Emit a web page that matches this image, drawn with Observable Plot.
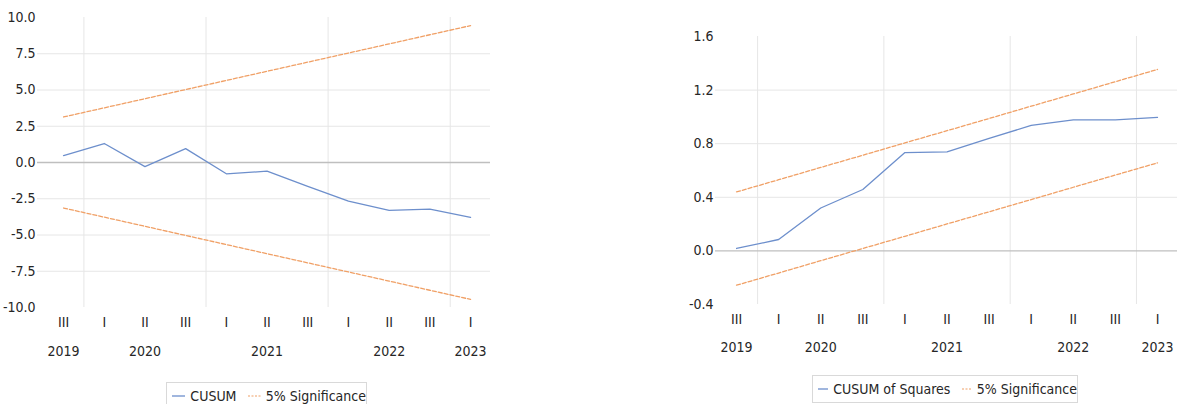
<!DOCTYPE html>
<html>
<head>
<meta charset="utf-8">
<script src="https://cdn.jsdelivr.net/npm/d3@7"></script>
<script src="https://cdn.jsdelivr.net/npm/@observablehq/plot@0.6"></script>
<style>
  html, body { margin: 0; padding: 0; background: #fff; }
  #wrap { position: relative; width: 1177px; height: 404px; overflow: hidden; font-family: "Liberation Sans Narrow", "DejaVu Sans Condensed", sans-serif; }
  .chart { position: absolute; top: 0; }
  .legend { position: absolute; box-sizing: border-box; border: 1px solid #d9d9d9; background: #fff;
            font-size: 14px; color: #262626; display: flex; align-items: center; padding-left: 5px; white-space: nowrap; }
  .legend svg { margin-right: 5px; }
  .legend span { margin-right: 12px; }
</style>
</head>
<body>
<div id="wrap"></div>
<script>
// ---- data ----
const periods = ["III","I","II","III","I","II","III","I","II","III","I"];
const years   = [2019,2020,2020,2020,2021,2021,2021,2022,2022,2022,2023];

const cusum      = [0.48, 1.31, -0.28, 0.96, -0.78, -0.60, -1.65, -2.67, -3.30, -3.22, -3.78];
const cusumUpper = [3.14, 3.77, 4.40, 5.03, 5.66, 6.29, 6.92, 7.55, 8.18, 8.81, 9.44];
const cusumLower = [-3.14, -3.77, -4.40, -5.03, -5.66, -6.29, -6.92, -7.55, -8.18, -8.81, -9.44];
const cusumTicks = [-10, -7.5, -5, -2.5, 0, 2.5, 5, 7.5, 10];

const cusumSq      = [0.018, 0.085, 0.320, 0.458, 0.734, 0.739, 0.840, 0.936, 0.978, 0.978, 0.996];
const cusumSqUpper = [0.440, 0.531, 0.623, 0.714, 0.806, 0.897, 0.988, 1.080, 1.171, 1.263, 1.354];
const cusumSqLower = [-0.256, -0.165, -0.073, 0.018, 0.109, 0.201, 0.292, 0.383, 0.475, 0.566, 0.657];
const cusumSqTicks = [-0.4, 0, 0.4, 0.8, 1.2, 1.6];

// ---- derived tables ----
const idx = periods.map((_, i) => i);
const yearGroups = d3.groups(idx, i => years[i]).map(([y, is]) => ({year: y, x: d3.mean(is)}));
const yearBounds = idx.filter(i => i > 0 && years[i] !== years[i - 1]).map(i => i - 0.5);

const BLUE = "#6d8fcc", ORANGE = "#f0a066", GRID = "#e6e6e6", ZERO = "#bfbfbf", TXT = "#262626";
const FONT = "'Liberation Sans Narrow', 'DejaVu Sans Condensed', sans-serif";
const FS = 14;

function makeChart({width, height, mLeft, mRight, mTop, mBottom, xDomain, yDomain, ticks, fmt, main, upper, lower, dyQ, dyY}) {
  const innerTicks = ticks.filter(t => t !== 0 && t !== yDomain[0] && t !== yDomain[1]);
  return Plot.plot({
    width, height,
    marginLeft: mLeft, marginRight: mRight, marginTop: mTop, marginBottom: mBottom,
    x: {domain: xDomain, axis: null},
    y: {domain: yDomain, axis: null},
    style: {fontFamily: FONT, fontSize: FS + "px", color: TXT, background: "transparent", overflow: "visible"},
    marks: [
      Plot.ruleY(innerTicks, {stroke: GRID, strokeWidth: 1}),
      Plot.ruleX(yearBounds, {stroke: GRID, strokeWidth: 1}),
      Plot.ruleY([0], {stroke: ZERO, strokeWidth: 1.3}),
      Plot.axisY({ticks, tickSize: 0, tickPadding: 2, tickFormat: fmt, label: null, fontSize: FS, fill: TXT}),
      Plot.line(idx, {x: i => i, y: i => upper[i], stroke: ORANGE, strokeWidth: 1.3, strokeDasharray: "4,2"}),
      Plot.line(idx, {x: i => i, y: i => lower[i], stroke: ORANGE, strokeWidth: 1.3, strokeDasharray: "4,2"}),
      Plot.line(idx, {x: i => i, y: i => main[i], stroke: BLUE, strokeWidth: 1.3}),
      Plot.text(idx, {x: i => i, y: () => yDomain[0], text: i => periods[i], dy: dyQ, fill: TXT, fontSize: FS}),
      Plot.text(yearGroups, {x: "x", y: () => yDomain[0], text: d => String(d.year), dy: dyY, fill: TXT, fontSize: FS})
    ]
  });
}

const wrap = document.getElementById("wrap");

const left = makeChart({
  width: 500, height: 370, mLeft: 37, mRight: 10, mTop: 17, mBottom: 63,
  xDomain: [-0.64, 10.49], yDomain: [-10, 10], ticks: cusumTicks, fmt: d => d.toFixed(1),
  main: cusum, upper: cusumUpper, lower: cusumLower, dyQ: 15, dyY: 44
});
left.classList.add("chart");
left.style.left = "0px";
wrap.appendChild(left);

const right = makeChart({
  width: 497, height: 370, mLeft: 35, mRight: 0, mTop: 36, mBottom: 66,
  xDomain: [-0.5, 10.475], yDomain: [-0.4, 1.6], ticks: cusumSqTicks, fmt: d => d.toFixed(1),
  main: cusumSq, upper: cusumSqUpper, lower: cusumSqLower, dyQ: 15, dyY: 43
});
right.classList.add("chart");
right.style.left = "680px";
wrap.appendChild(right);

function legend(leftPx, topPx, widthPx, heightPx, mainLabel) {
  const d = document.createElement("div");
  d.className = "legend";
  Object.assign(d.style, {left: leftPx + "px", top: topPx + "px", width: widthPx + "px", height: heightPx + "px"});
  d.innerHTML =
    `<svg width="26" height="4"><line x1="0" x2="26" y1="2" y2="2" stroke="${BLUE}" stroke-width="1.3"/></svg>` +
    `<span>${mainLabel}</span>` +
    `<svg width="24" height="4"><line x1="0" x2="24" y1="2" y2="2" stroke="${ORANGE}" stroke-width="1.2" stroke-dasharray="2,1.5"/></svg>` +
    `<span style="margin-right:0">5% Significance</span>`;
  wrap.appendChild(d);
}
legend(166, 382, 201, 28, "CUSUM");
legend(812, 375, 266, 28, "CUSUM of Squares");
</script>
</body>
</html>
